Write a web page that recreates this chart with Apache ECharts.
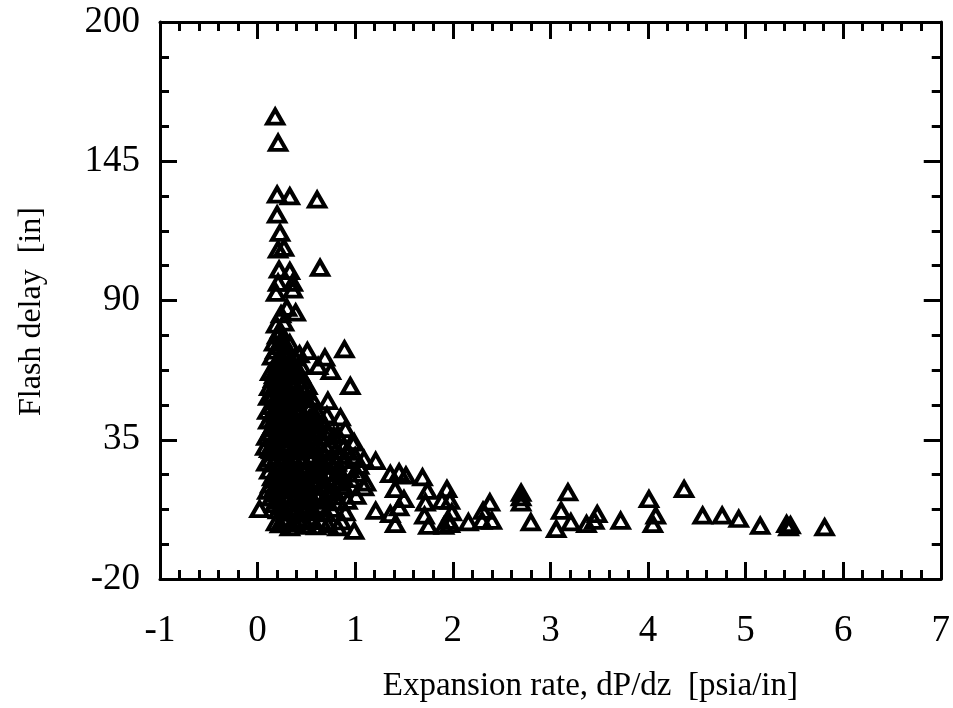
<!DOCTYPE html>
<html>
<head>
<meta charset="utf-8">
<script src="https://cdn.jsdelivr.net/npm/echarts@6/dist/echarts.min.js"></script>
<style>
  html, body { margin: 0; padding: 0; background: #fff; }
  #chart { width: 953px; height: 708px; }
</style>
</head>
<body>
<div id="chart"></div>
<script>
// Flash delay vs. expansion rate: [dP/dz (psia/in), flash delay (in)]

// Tall, sparse points above the main cluster
const scatterHigh = [
  [0.18, 162.6], [0.21, 152.3], [0.20, 131.8], [0.33, 131.1], [0.61, 129.8],
  [0.20, 123.9], [0.23, 116.7], [0.21, 110.1], [0.27, 110.8], [0.64, 102.9],
  [0.22, 102.2], [0.33, 101.6], [0.21, 97.0], [0.36, 97.0], [0.19, 93.0],
  [0.36, 94.3], [0.24, 84.5], [0.39, 85.2], [0.30, 87.1]
];

// Mid-height points around the cluster
const scatterMid = [
  [0.51, 70.0], [0.69, 67.4], [0.89, 70.7], [0.62, 64.1], [0.75, 62.1],
  [0.95, 56.2], [0.72, 50.3], [0.85, 43.8], [0.78, 36.5], [0.97, 34.1],
  [0.43, 68.7], [0.38, 67.4], [0.45, 64.1], [0.51, 56.2], [0.46, 51.0],
  [0.58, 45.0], [0.55, 43.8], [0.58, 42.0], [0.63, 40.5], [0.22, 76.6],
  [0.22, 72.0], [0.21, 66.7], [0.19, 62.8], [0.16, 58.9], [0.22, 51.0],
  [0.14, 48.3], [0.33, 49.7], [0.36, 57.6], [0.41, 54.9], [0.29, 39.1],
  [0.12, 37.8], [0.50, 40.5], [0.21, 41.8], [0.24, 45.7], [0.36, 44.4],
  [0.43, 47.0], [0.50, 51.0], [0.33, 62.8], [0.40, 60.2], [0.26, 56.2]
];

// Dense cluster at low expansion rate
const scatterCore = [
  [0.19, 80.5], [0.23, 78.2], [0.27, 81.3], [0.20, 76.1],
  [0.17, 73.4], [0.25, 74.8], [0.29, 71.9], [0.33, 73.0], [0.18, 70.2], [0.27, 69.5], [0.31, 68.2],
  [0.15, 67.8], [0.24, 66.1], [0.28, 65.4], [0.35, 66.3], [0.19, 65.0], [0.31, 64.6],
  [0.13, 61.7], [0.17, 60.4], [0.24, 62.3], [0.28, 61.0], [0.31, 59.8], [0.37, 61.9], [0.21, 59.2], [0.44, 60.8],
  [0.12, 55.8], [0.19, 56.4], [0.23, 57.8], [0.29, 55.3], [0.33, 54.1], [0.38, 56.7], [0.46, 58.3], [0.25, 53.6],
  [0.11, 51.9], [0.16, 52.8], [0.18, 50.3], [0.27, 51.4], [0.30, 52.6], [0.35, 51.2], [0.39, 50.4], [0.42, 52.7], [0.48, 53.9], [0.55, 51.6],
  [0.10, 46.4], [0.15, 45.2], [0.19, 47.9], [0.23, 48.8], [0.27, 46.3], [0.31, 47.5], [0.34, 45.9], [0.39, 46.6], [0.47, 44.8], [0.53, 47.2], [0.61, 46.1],
  [0.11, 42.6], [0.16, 40.7], [0.18, 43.9], [0.25, 41.3], [0.28, 43.1], [0.32, 41.9], [0.37, 40.2], [0.40, 42.8], [0.44, 41.0], [0.53, 43.3], [0.67, 41.8], [0.71, 44.6],
  [0.09, 36.1], [0.14, 39.4], [0.17, 35.6], [0.21, 37.2], [0.24, 38.7], [0.27, 35.2], [0.31, 36.8], [0.34, 38.3], [0.39, 35.9],
  [0.43, 37.5], [0.47, 36.4], [0.52, 38.1], [0.56, 35.7], [0.60, 37.9], [0.66, 36.2], [0.71, 38.4], [0.82, 37.0], [0.90, 39.2],
  [0.08, 32.2], [0.14, 30.8], [0.17, 33.5], [0.22, 30.1], [0.26, 32.9], [0.29, 31.0], [0.32, 33.7], [0.36, 30.4], [0.40, 32.5], [0.45, 34.2],
  [0.49, 30.9], [0.52, 32.8], [0.59, 31.4], [0.62, 33.6], [0.71, 31.7], [0.75, 33.1], [0.80, 30.6], [0.88, 32.3], [0.93, 30.2],
  [0.13, 27.4], [0.16, 25.6], [0.20, 28.3], [0.23, 26.0], [0.28, 27.8], [0.31, 25.3], [0.36, 28.7], [0.39, 26.4], [0.42, 28.1],
  [0.54, 26.9], [0.58, 28.8], [0.61, 25.4], [0.65, 27.3], [0.73, 26.7], [0.81, 25.9], [0.90, 27.0], [1.00, 28.4],
  [0.12, 22.8], [0.18, 21.3], [0.21, 23.9], [0.24, 20.6], [0.29, 22.2], [0.31, 24.0], [0.37, 21.0], [0.41, 23.3], [0.44, 20.4],
  [0.48, 22.7], [0.53, 21.5], [0.60, 23.8], [0.64, 20.9], [0.75, 21.8], [0.83, 22.9], [0.87, 20.5], [1.02, 21.6],
  [0.13, 17.3], [0.16, 15.2], [0.21, 18.6], [0.23, 16.0], [0.28, 17.7], [0.31, 15.5], [0.35, 18.9], [0.43, 17.0],
  [0.47, 15.8], [0.51, 18.2], [0.59, 16.4], [0.62, 18.8], [0.70, 17.5], [0.78, 15.3], [0.83, 18.0], [0.88, 16.7],
  [0.14, 12.1], [0.19, 13.6], [0.22, 11.0], [0.28, 12.9], [0.30, 10.4], [0.37, 11.7], [0.41, 13.9], [0.44, 10.8],
  [0.48, 12.4], [0.54, 13.3], [0.57, 10.9], [0.62, 12.0], [0.69, 11.4], [0.79, 12.6], [0.84, 10.3],
  [0.21, 7.1], [0.24, 8.8], [0.29, 6.2], [0.32, 8.4], [0.40, 7.5], [0.43, 5.7], [0.47, 8.1], [0.54, 7.0], [0.64, 8.6], [0.70, 5.9], [0.76, 7.7],
  [0.23, 1.6], [0.28, 3.2], [0.39, 1.9], [0.43, 2.6], [0.55, 3.4], [0.60, 0.8], [0.65, 2.9], [0.72, 1.5], [0.86, 2.8]
];

// Low-delay points between 0 and 2 psia/in
const scatterLow = [
  [0.02, 7.6], [0.17, 9.6], [0.10, 14.8], [0.15, 20.1], [0.09, 26.0], [0.12, 31.3], [0.19, 2.4], [0.33, 0.4],
  [0.51, 1.0], [0.82, 0.4], [0.99, -1.0], [0.90, 6.3], [0.58, 6.3], [1.21, 26.6], [1.21, 6.9], [1.36, 21.4],
  [1.45, 22.1], [1.52, 20.8], [1.69, 20.1], [1.41, 15.5], [1.50, 11.5], [1.45, 8.3], [1.36, 5.6], [1.41, 1.7],
  [1.74, 14.8], [1.72, 10.2], [1.71, 5.0], [1.75, 1.0], [1.94, 15.5], [1.89, 10.9], [1.97, 10.9], [1.99, 6.3],
  [1.91, 1.0], [0.99, 33.9], [1.09, 27.3], [1.04, 24.7], [1.11, 18.1], [1.09, 16.2], [1.01, 12.8], [0.92, 10.9],
  [0.85, 28.6], [0.96, 19.4], [0.94, 23.4], [0.73, 14.2], [0.77, 24.7], [0.46, 3.7], [0.26, 3.7], [0.36, 6.3],
  [0.50, 8.9], [0.33, 12.8], [0.39, 16.2], [0.26, 19.4], [0.56, 19.4], [0.67, 16.8], [0.50, 23.4], [0.33, 24.7],
  [0.63, 26.0], [0.19, 32.6], [0.43, 31.3], [0.55, 33.9], [0.67, 29.9], [0.70, 22.1], [0.46, 27.3]
];

// Long tail at high expansion rate
const scatterTail = [
  [1.96, 3.0], [1.97, 1.7], [2.16, 2.4], [2.31, 6.9], [2.38, 10.2], [2.40, 3.0], [2.30, 3.0],
  [2.70, 14.0], [2.70, 12.2], [2.70, 10.2], [2.80, 2.4], [3.18, 14.2], [3.11, 6.9], [3.21, 2.4], [3.06, -0.3],
  [3.37, 1.7], [3.48, 5.6], [3.45, 3.0], [3.72, 3.0], [4.01, 11.5], [4.08, 5.0], [4.05, 1.7], [4.37, 15.5],
  [4.56, 5.0], [4.76, 5.0], [4.93, 3.7], [5.15, 1.0], [5.42, 1.7], [5.44, 0.4], [5.46, 1.2], [5.81, 0.4]
];

const xTitle = 'Expansion rate, dP/dz  [psia/in]';
const yTitle = 'Flash delay  [in]';

const serif = '"Liberation Serif", "Times New Roman", serif';
const ink = '#000';

function frameAxis(extra) {
  return Object.assign({
    type: 'value',
    axisLine: { show: true, onZero: false, lineStyle: { color: ink, width: 3 } },
    axisTick: { show: true, inside: true, length: 17, lineStyle: { color: ink, width: 3 } },
    splitLine: { show: false },
    minorSplitLine: { show: false }
  }, extra);
}

function minor(n) {
  return { show: true, splitNumber: n, length: 9, lineStyle: { color: ink, width: 3 } };
}

const chart = echarts.init(document.getElementById('chart'), null, { renderer: 'canvas' });

chart.setOption({
  animation: false,
  backgroundColor: '#fff',
  grid: { left: 160, right: 10, top: 22, bottom: 128, containLabel: false },
  xAxis: [
    frameAxis({
      position: 'bottom', min: -1, max: 7, interval: 1,
      minorTick: minor(5),
      axisLabel: { color: ink, fontFamily: serif, fontSize: 37, margin: 34 },
      name: xTitle, nameLocation: 'middle', nameGap: 91,
      nameTextStyle: { color: ink, fontFamily: serif, fontSize: 33, padding: [0, 0, 0, 80] }
    }),
    frameAxis({
      position: 'top', min: -1, max: 7, interval: 1,
      minorTick: minor(5),
      axisLabel: { show: false }
    })
  ],
  yAxis: [
    frameAxis({
      position: 'left', min: -20, max: 200, interval: 55,
      minorTick: minor(4),
      axisLabel: { color: ink, fontFamily: serif, fontSize: 37, margin: 20 },
      name: yTitle, nameLocation: 'middle', nameGap: 112, nameRotate: 90,
      nameTextStyle: { color: ink, fontFamily: serif, fontSize: 32, padding: [0, 22, 0, 0] }
    }),
    frameAxis({
      position: 'right', min: -20, max: 200, interval: 55,
      minorTick: minor(4),
      axisLabel: { show: false }
    })
  ],
  series: [{
    type: 'scatter',
    xAxisIndex: 0,
    yAxisIndex: 0,
    data: [].concat(scatterHigh, scatterMid, scatterCore, scatterLow, scatterTail),
    symbol: 'triangle',
    symbolSize: [16, 14],
    itemStyle: { color: 'rgba(0,0,0,0)', borderColor: ink, borderWidth: 4, opacity: 1 },
    emphasis: { disabled: true },
    silent: true
  }]
});
</script>
</body>
</html>
